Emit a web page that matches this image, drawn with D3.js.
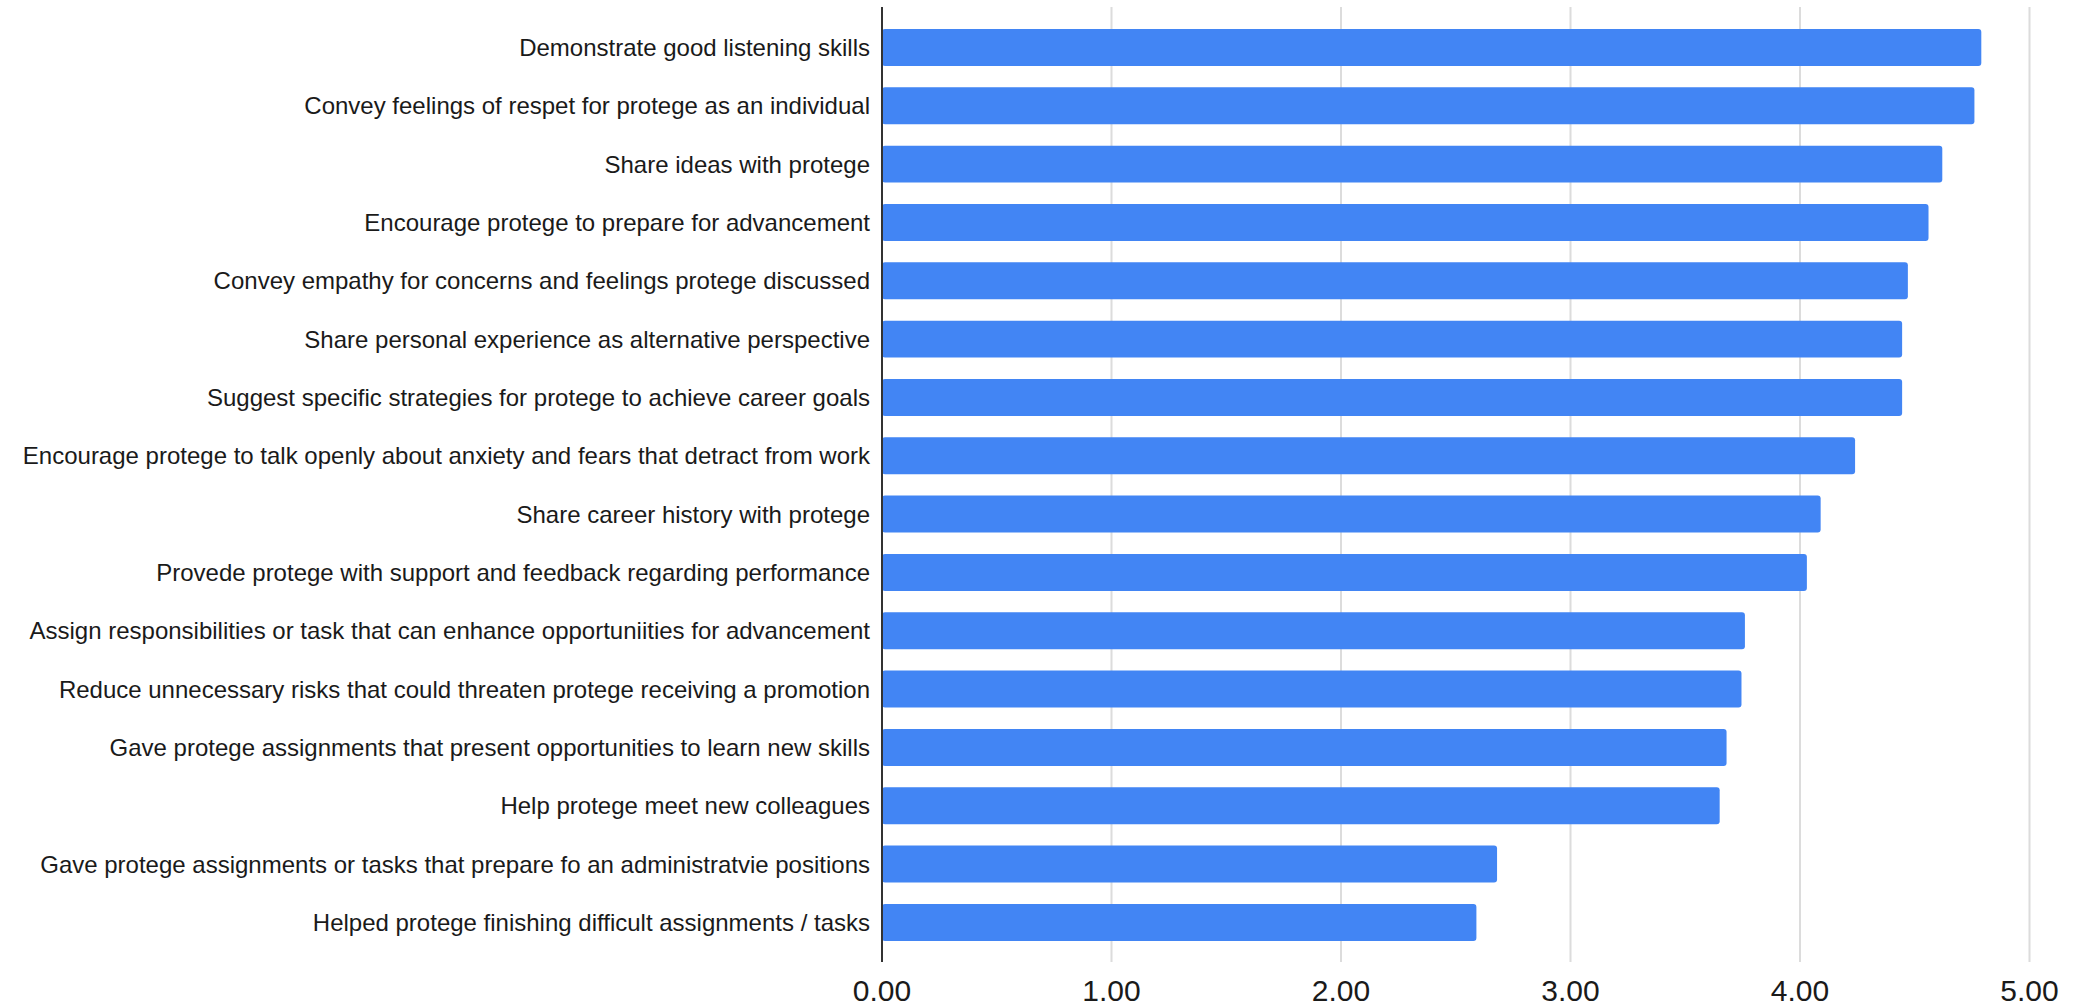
<!DOCTYPE html>
<html>
<head>
<meta charset="utf-8">
<script src="https://cdn.jsdelivr.net/npm/d3@7"></script>
<style>
  html, body { margin: 0; padding: 0; background: #fff; }
  svg { display: block; }
</style>
</head>
<body>
<svg id="chart" width="2087" height="1008"></svg>
<script>
const categories = [
  "Demonstrate good listening skills",
  "Convey feelings of respet for protege as an individual",
  "Share ideas with protege",
  "Encourage protege to prepare for advancement",
  "Convey empathy for concerns and feelings protege discussed",
  "Share personal experience as alternative perspective",
  "Suggest specific strategies for protege to achieve career goals",
  "Encourage protege to talk openly about anxiety and fears that detract from work",
  "Share career history with protege",
  "Provede protege with support and feedback regarding performance",
  "Assign responsibilities or task that can enhance opportuniities for advancement",
  "Reduce unnecessary risks that could threaten protege receiving a promotion",
  "Gave protege assignments that present opportunities to learn new skills",
  "Help protege meet new colleagues",
  "Gave protege assignments or tasks that prepare fo an administratvie positions",
  "Helped protege finishing difficult assignments / tasks"
];
const values = [4.79, 4.76, 4.62, 4.56, 4.47, 4.445, 4.445, 4.24, 4.09, 4.03, 3.76, 3.745, 3.68, 3.65, 2.68, 2.59];
const tickValues = [0, 1, 2, 3, 4, 5];
const tickLabels = ["0.00", "1.00", "2.00", "3.00", "4.00", "5.00"];

const svg = d3.select("#chart");
const x0 = 882, x1 = 2029.5;
const plotTop = 7, plotBottom = 962;

const x = d3.scaleLinear().domain([0, 5]).range([x0, x1]);
const y = d3.scaleBand().domain(categories).range([18.3, 951.6])
  .paddingInner(0.366).paddingOuter(0.183);

// gridlines
svg.append("g").selectAll("line").data(tickValues.filter(d => d > 0)).join("line")
  .attr("x1", d => x(d)).attr("x2", d => x(d))
  .attr("y1", plotTop).attr("y2", plotBottom)
  .attr("stroke", "#dcdcdc").attr("stroke-width", 2);

// bars
svg.append("g").selectAll("rect").data(values).join("rect")
  .attr("x", x(0))
  .attr("y", (d, i) => y(categories[i]))
  .attr("width", d => x(d) - x(0))
  .attr("height", y.bandwidth())
  .attr("rx", 3).attr("ry", 3)
  .attr("fill", "#4285f4");

// zero axis line
svg.append("line")
  .attr("x1", x(0)).attr("x2", x(0))
  .attr("y1", plotTop).attr("y2", plotBottom)
  .attr("stroke", "#333").attr("stroke-width", 2);

// category labels
svg.append("g").selectAll("text").data(categories).join("text")
  .attr("x", 870)
  .attr("y", d => y(d) + y.bandwidth() / 2)
  .attr("dy", "0.35em")
  .attr("text-anchor", "end")
  .attr("font-family", "Liberation Sans, Arial, sans-serif")
  .attr("font-size", 24)
  .attr("fill", "#1a1a1a")
  .text(d => d);

// x tick labels
svg.append("g").selectAll("text").data(tickValues).join("text")
  .attr("x", d => x(d))
  .attr("y", 1000.7)
  .attr("text-anchor", "middle")
  .attr("font-family", "Liberation Sans, Arial, sans-serif")
  .attr("font-size", 30)
  .attr("fill", "#1a1a1a")
  .text((d, i) => tickLabels[i]);
</script>
</body>
</html>
